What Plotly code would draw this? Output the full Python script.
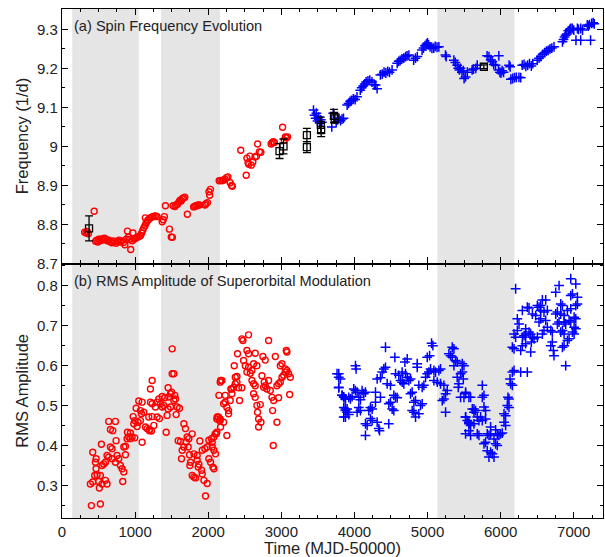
import plotly.graph_objects as go
from plotly.subplots import make_subplots

# ---------------- data ----------------
# (a) spin frequency, red circles (early epoch)
freq_red_t = [310, 330, 345, 360, 440,
              460, 475, 490, 505, 520, 540, 560, 580, 600, 620, 640, 660, 680, 700, 720, 740, 760, 780,
              800, 820, 840, 860, 880, 895, 910, 925, 940, 960, 970, 985, 1000, 1020, 1040, 1060, 1075,
              1090, 1105, 1120, 1140, 1135, 1150, 1165, 1180, 1200, 1220, 1240, 1260, 1280, 1300, 1370,
              1385, 1400, 1415, 1470, 1495, 1510, 1520, 1545, 1560, 1580, 1600, 1615, 1630, 1645, 1660,
              1680, 1715, 1800, 1815, 1830, 1845, 1860, 1880, 1955, 1970, 1990, 2010, 2020, 2030, 2150,
              2170, 2190, 2210, 2230, 2250, 2270, 2300, 2320, 2330, 2445, 2520, 2530, 2545, 2555, 2570,
              2590, 2610, 2640, 2660, 2675, 2700, 2720, 2860, 2875, 2890, 2905, 3017, 3040, 3055, 3070, 3085]
freq_red_f = [8.780, 8.778, 8.782, 8.776, 8.834,
              8.757, 8.760, 8.755, 8.762, 8.758, 8.763, 8.760, 8.765, 8.762, 8.758, 8.760, 8.756, 8.753,
              8.758, 8.756, 8.752, 8.757, 8.760, 8.755, 8.758, 8.754, 8.748, 8.762, 8.783, 8.768, 8.762,
              8.736, 8.758, 8.778, 8.762, 8.765, 8.766, 8.768, 8.770, 8.772, 8.778, 8.785, 8.792, 8.817,
              8.797, 8.803, 8.808, 8.812, 8.816, 8.818, 8.820, 8.821, 8.822, 8.820, 8.807, 8.812, 8.820,
              8.848, 8.788, 8.768, 8.767, 8.848, 8.846, 8.850, 8.852, 8.858, 8.862, 8.860, 8.866, 8.868,
              8.870, 8.826, 8.845, 8.846, 8.848, 8.848, 8.850, 8.850, 8.850, 8.853, 8.856, 8.884, 8.875,
              8.890, 8.912, 8.913, 8.912, 8.914, 8.916, 8.920, 8.922, 8.907, 8.900, 8.898, 8.990, 8.926,
              8.970, 8.958, 8.954, 8.975, 8.952, 8.960, 8.973, 8.975, 9.006, 8.986, 8.985, 9.006, 9.010,
              9.012, 9.010, 9.049, 9.016, 9.024, 9.022, 9.024]

# (a) spin frequency, blue crosses (later epoch)
freq_blue_t = [3440, 3455, 3470, 3480, 3495, 3510, 3525, 3540, 3555, 3690, 3710, 3730, 3750, 3770, 3790,
               3810, 3830, 3850, 3900, 3920, 3940, 3960, 3985, 4010, 4035, 4080, 4100, 4120, 4140, 4160,
               4185, 4210, 4240, 4270, 4290, 4310, 4355, 4380, 4405, 4430, 4455, 4480, 4515, 4585, 4605,
               4625, 4650, 4675, 4700, 4720, 4745, 4810, 4835, 4860, 4925, 4945, 4965, 4985, 5000, 5015,
               5035, 5060, 5085, 5105, 5130, 5155, 5245, 5255, 5360, 5380, 5405, 5420, 5435, 5450, 5470,
               5490, 5500, 5520, 5545, 5610, 5630, 5660, 5680, 5815, 5840, 5865, 5885, 5905, 5930, 5975,
               5970, 5990, 6005, 6020, 6040, 6115, 6130, 6140, 6165, 6190, 6215, 6250, 6275, 6295, 6320,
               6345, 6370, 6395, 6420, 6440, 6500, 6525, 6550, 6575, 6600, 6625, 6650, 6675, 6700, 6730,
               6845, 6860, 6875, 6890, 6905, 6925, 6945, 6960, 6980, 7000, 7030, 7050, 7065, 7095, 7095,
               7120, 7185, 7200, 7215, 7230, 7245, 7265, 7280]
freq_blue_f = [9.093, 9.080, 9.072, 9.085, 9.065, 9.075, 9.060, 9.068, 9.062, 9.050, 9.085, 9.070, 9.062,
               9.068, 9.072, 9.066, 9.070, 9.072, 9.106, 9.110, 9.115, 9.118, 9.122, 9.120, 9.127, 9.144,
               9.150, 9.155, 9.160, 9.165, 9.168, 9.170, 9.165, 9.158, 9.157, 9.148, 9.183, 9.185, 9.190,
               9.188, 9.192, 9.190, 9.196, 9.213, 9.218, 9.220, 9.224, 9.226, 9.230, 9.232, 9.234, 9.221,
               9.226, 9.230, 9.247, 9.252, 9.258, 9.262, 9.265, 9.260, 9.255, 9.251, 9.252, 9.256, 9.254,
               9.255, 9.234, 9.230, 9.221, 9.215, 9.208, 9.200, 9.196, 9.200, 9.190, 9.194, 9.174, 9.178,
               9.190, 9.196, 9.198, 9.200, 9.208, 9.232, 9.230, 9.222, 9.217, 9.210, 9.208, 9.232, 9.196,
               9.190, 9.188, 9.194, 9.190, 9.208, 9.204, 9.172, 9.174, 9.176, 9.177, 9.177, 9.176, 9.208,
               9.210, 9.205, 9.208, 9.212, 9.206, 9.212, 9.221, 9.226, 9.230, 9.236, 9.240, 9.244, 9.246,
               9.250, 9.252, 9.255, 9.268, 9.274, 9.280, 9.285, 9.288, 9.296, 9.300, 9.302, 9.302, 9.298,
               9.272, 9.302, 9.300, 9.272, 9.302, 9.298, 9.311, 9.308, 9.312, 9.272, 9.315, 9.317, 9.314]

# (a) black squares with error bars
sq_t = [370, 2975, 3030, 3350, 3350, 3540, 3545, 3720, 3730, 5770]
sq_f = [8.790, 8.988, 9.000, 9.029, 8.998, 9.055, 9.042, 9.078, 9.072, 9.204]
sq_err = [0.032, 0.019, 0.019, 0.017, 0.014, 0.020, 0.017, 0.017, 0.012, 0.005]

# (b) RMS amplitude, red circles
rms_red_t = [402, 525, 388, 420, 502, 511, 548, 447, 466, 457, 420, 466, 480, 525, 594, 616, 548, 571,
             594, 539, 616, 639, 662, 685, 639, 731, 662, 694, 740, 685, 731, 753, 776, 799, 822, 845, 831,
             868, 845, 868, 890, 913, 936, 895, 936, 959, 995, 973, 995, 982, 1014, 1050, 1096, 1027, 1041,
             1073, 1096, 1073, 1119, 1087, 1142, 1164, 1196, 1210, 1233, 1210, 1233, 1187, 1233, 1196, 1224,
             1278, 1301, 1324, 1256, 1301, 1333, 1347, 1370, 1393, 1370, 1406, 1425, 1452, 1461, 1484, 1438,
             1452, 1484, 1507, 1507, 1530, 1498, 1543, 1552, 1530, 1562, 1575, 1607, 1589, 1621, 1644, 1667,
             1635, 1667, 1689, 1712, 1735, 1699, 1726, 1744, 1781, 1758, 1749, 1781, 1804, 1826, 1804, 1849,
             1849, 1872, 1863, 1886, 1909, 1918, 1918, 1954, 1986, 1941, 1986, 1963, 2009, 2032, 2009, 2055,
             2055, 2078, 2100, 2064, 2078, 2046, 2078, 2110, 2123, 2155, 2146, 2169, 2169,
             2096, 2118, 2141, 2164, 2187, 2164, 2118, 2164, 2210, 2210, 2232, 2255, 2232, 2278, 2278, 2301,
             2324, 2310, 2255, 2347, 2370, 2393, 2370, 2393, 2324, 2415, 2461, 2356, 2401, 2429, 2484, 2529,
             2552, 2461, 2475, 2552, 2507, 2552, 2598, 2529, 2575, 2598, 2621, 2643, 2621, 2666, 2643, 2621,
             2643, 2675, 2666, 2712, 2689, 2721, 2689, 2748, 2780, 2735, 2758, 2780, 2803, 2767, 2826, 2826,
             2849, 2872, 2895, 2881, 2918, 2940, 2963, 2986, 2986, 3009, 2940, 2963, 3009, 3032, 3054, 3068,
             3077, 3077, 3100, 3123, 3114, 3054, 2890]
rms_red_a = [0.251, 0.255, 0.305, 0.310, 0.311, 0.295, 0.305, 0.326, 0.343, 0.359, 0.384, 0.368, 0.328,
             0.326, 0.314, 0.305, 0.351, 0.355, 0.359, 0.404, 0.376, 0.372, 0.397, 0.393, 0.461, 0.461,
             0.441, 0.438, 0.413, 0.368, 0.359, 0.376, 0.368, 0.351, 0.343, 0.335, 0.311, 0.378, 0.397,
             0.399, 0.418, 0.422, 0.418, 0.434, 0.432, 0.422, 0.420, 0.473, 0.463, 0.455, 0.494, 0.512,
             0.509, 0.448, 0.459, 0.463, 0.409, 0.488, 0.484, 0.480, 0.447, 0.443, 0.441, 0.542, 0.563,
             0.509, 0.505, 0.472, 0.473, 0.438, 0.437, 0.497, 0.509, 0.517, 0.451, 0.472, 0.468, 0.505,
             0.497, 0.501, 0.523, 0.520, 0.434, 0.545, 0.522, 0.530, 0.476, 0.492, 0.497, 0.642, 0.580,
             0.580, 0.534, 0.526, 0.517, 0.513, 0.478, 0.497, 0.494, 0.413, 0.411, 0.389, 0.397, 0.368,
             0.455, 0.443, 0.422, 0.418, 0.409, 0.397, 0.378, 0.430, 0.359, 0.351, 0.326, 0.322, 0.320,
             0.380, 0.376, 0.364, 0.354, 0.347, 0.412, 0.339, 0.330, 0.389, 0.393, 0.397, 0.314, 0.306,
             0.275, 0.368, 0.359, 0.414, 0.409, 0.397, 0.389, 0.380, 0.347, 0.343, 0.418, 0.422, 0.430,
             0.472, 0.463, 0.526, 0.563, 0.447,
             0.430, 0.434, 0.472, 0.467, 0.563, 0.559, 0.467, 0.463, 0.459, 0.505, 0.509, 0.496, 0.526,
             0.488, 0.480, 0.513, 0.530, 0.542, 0.426, 0.546, 0.555, 0.559, 0.571, 0.573, 0.542, 0.545,
             0.545, 0.600, 0.630, 0.513, 0.613, 0.638, 0.630, 0.667, 0.663, 0.677, 0.600, 0.596, 0.588,
             0.584, 0.581, 0.563, 0.555, 0.550, 0.605, 0.600, 0.631, 0.530, 0.521, 0.484, 0.501, 0.503,
             0.467, 0.459, 0.447, 0.623, 0.614, 0.575, 0.546, 0.550, 0.542, 0.559, 0.563, 0.663, 0.538,
             0.521, 0.513, 0.488, 0.623, 0.550, 0.555, 0.559, 0.600, 0.605, 0.459, 0.520, 0.571, 0.576,
             0.584, 0.638, 0.634, 0.588, 0.580, 0.571, 0.528, 0.592, 0.401]

# (b) RMS amplitude, blue crosses
rms_blue_t = [3762, 3785, 3785, 3831, 3853, 3876, 3876, 3899, 3853,
              3786, 3808, 3786, 3831, 3854, 3877, 3854, 3877, 3900, 3923, 3945, 3968, 3877, 3923, 3991,
              4014, 4037, 4014, 4023, 4060, 4082, 4060, 4082, 4037, 4105, 4151, 4128, 4151, 4174, 4151,
              4197, 4242, 4219, 4219, 4242, 4288, 4288, 4311, 4334, 4343, 4311, 4356, 4379, 4402, 4425,
              4425, 4356, 4448, 4493, 4470, 4493, 4470, 4516, 4539, 4539, 4562, 4585, 4553, 4562, 4607,
              4630, 4653, 4676, 4653, 4699, 4690, 4722, 4722, 4744, 4767, 4767, 4790, 4813, 4836, 4790,
              4813, 4859, 4859, 4881, 4904, 4927, 4836, 4881, 4927, 4950, 4973, 4996, 5018, 4996, 5028,
              5055, 5073, 5041, 5087, 5110, 5155, 5178, 5087, 5133, 5178, 5224, 5270, 5247, 5224, 5201,
              5247, 5338, 5361, 5292, 5315, 5338, 5384, 5361, 5406, 5406, 5452, 5475, 5429, 5420, 5452,
              5475, 5498, 5521, 5566, 5612, 5635, 5657, 5521, 5566, 5589, 5566,
              5489, 5520, 5498, 5589, 5520, 5543, 5566, 5520, 5589, 5635, 5680, 5703, 5635, 5749, 5749,
              5772, 5772, 5794, 5726, 5749, 5794, 5680, 5703, 5817, 5840, 5863, 5772, 5794, 5863, 5909,
              5931, 5954, 5817, 5863, 5886, 5840, 5909, 5977, 5999, 6023, 5931, 5954, 6046, 6068, 6046,
              6068, 6091, 6114, 6114, 6100, 6137, 6160, 6128, 6160, 6183, 6205, 6183, 6160, 6205, 6183,
              6228, 6251, 6228, 6274, 6365, 6297, 6320, 6342, 6274, 6297, 6342, 6297, 6365, 6388, 6342,
              6388, 6411, 6434, 6457, 6420, 6411, 6434, 6479, 6502, 6525, 6548, 6548, 6525, 6502, 6571,
              6616, 6548, 6593, 6639, 6616, 6639, 6593, 6571, 6685, 6707, 6707, 6685, 6721, 6730, 6753,
              6776, 6753, 6799, 6776, 6799, 6822, 6845, 6822, 6868, 6822, 6845, 6868, 6868, 6890, 6890,
              6868, 6845, 6913, 6936, 6913, 6959, 6936, 6959, 6959, 6982, 6959, 7028, 6982, 7005, 7005,
              7028, 7028, 7050, 7050, 7005, 7028]
rms_blue_a = [0.580, 0.571, 0.545, 0.526, 0.522, 0.517, 0.492, 0.484, 0.472,
              0.580, 0.567, 0.546, 0.526, 0.521, 0.517, 0.496, 0.488, 0.492, 0.521, 0.517, 0.523, 0.472,
              0.478, 0.542, 0.538, 0.534, 0.600, 0.592, 0.521, 0.515, 0.496, 0.488, 0.484, 0.538, 0.534,
              0.530, 0.455, 0.451, 0.426, 0.488, 0.492, 0.496, 0.468, 0.463, 0.534, 0.509, 0.459, 0.443,
              0.438, 0.567, 0.570, 0.584, 0.592, 0.596, 0.646, 0.521, 0.555, 0.551, 0.505, 0.509, 0.455,
              0.492, 0.488, 0.526, 0.521, 0.520, 0.621, 0.580, 0.576, 0.563, 0.559, 0.555, 0.584, 0.580,
              0.609, 0.617, 0.571, 0.563, 0.567, 0.530, 0.534, 0.509, 0.513, 0.488, 0.484, 0.605, 0.596,
              0.551, 0.501, 0.505, 0.472, 0.480, 0.546, 0.551, 0.571, 0.580, 0.584, 0.621, 0.625, 0.656,
              0.650, 0.592, 0.588, 0.584, 0.588, 0.592, 0.563, 0.559, 0.555, 0.551, 0.538, 0.530, 0.517,
              0.513, 0.484, 0.646, 0.642, 0.630, 0.625, 0.621, 0.613, 0.600, 0.609, 0.571, 0.580, 0.584,
              0.555, 0.546, 0.521, 0.605, 0.600, 0.534, 0.521, 0.492, 0.484, 0.488, 0.472, 0.459, 0.451,
              0.438,
              0.567, 0.530, 0.521, 0.521, 0.472, 0.463, 0.455, 0.430, 0.426, 0.492, 0.472, 0.463, 0.455,
              0.551, 0.521, 0.526, 0.497, 0.488, 0.472, 0.463, 0.467, 0.430, 0.426, 0.430, 0.426, 0.430,
              0.405, 0.409, 0.447, 0.417, 0.405, 0.401, 0.388, 0.384, 0.380, 0.372, 0.372, 0.426, 0.430,
              0.432, 0.440, 0.430, 0.459, 0.451, 0.480, 0.475, 0.501, 0.496, 0.517, 0.521, 0.555, 0.551,
              0.567, 0.584, 0.588, 0.792, 0.642, 0.646, 0.671, 0.679, 0.688, 0.704, 0.717, 0.584, 0.584,
              0.671, 0.675, 0.679, 0.638, 0.650, 0.655, 0.738, 0.746, 0.744, 0.692, 0.684, 0.679, 0.671,
              0.667, 0.659, 0.634, 0.729, 0.725, 0.750, 0.746, 0.750, 0.717, 0.709, 0.671, 0.764, 0.764,
              0.738, 0.734, 0.738, 0.713, 0.696, 0.688, 0.679, 0.688, 0.684, 0.659, 0.650, 0.638, 0.625,
              0.729, 0.734, 0.783, 0.800, 0.704, 0.709, 0.754, 0.750, 0.729, 0.725, 0.684, 0.688, 0.679,
              0.709, 0.704, 0.600, 0.650, 0.646, 0.663, 0.667, 0.738, 0.742, 0.713, 0.709, 0.775, 0.779,
              0.817, 0.804, 0.684, 0.679, 0.721, 0.717, 0.750, 0.754, 0.771, 0.696, 0.692]

# shaded intervals (MJD-50000)
band_start = [140, 1355, 5135]
band_end = [1050, 2160, 6190]

# axis ticks
x_ticks = [0, 1000, 2000, 3000, 4000, 5000, 6000, 7000]
x_ticktext = ["0", "1000", "2000", "3000", "4000", "5000", "6000", "7000"]
f_ticks = [8.7, 8.8, 8.9, 9.0, 9.1, 9.2, 9.3]
f_ticktext = ["8.7", "8.8", "8.9", "9", "9.1", "9.2", "9.3"]
a_ticks = [0.3, 0.4, 0.5, 0.6, 0.7, 0.8]
a_ticktext = ["0.3", "0.4", "0.5", "0.6", "0.7", "0.8"]

# ---------------- figure ----------------
FONT = "Liberation Sans, Arial, Helvetica, sans-serif"
TXT = "#222222"

fig = make_subplots(rows=2, cols=1, shared_xaxes=True, vertical_spacing=0)

circle = dict(symbol="circle-open", size=6, color="red", line=dict(width=1.4, color="red"))
cross = dict(symbol="cross-thin-open", size=7, color="blue", line=dict(width=1.5, color="blue"))

fig.add_trace(go.Scatter(x=freq_red_t, y=freq_red_f, mode="markers", marker=circle,
                         showlegend=False), row=1, col=1)
fig.add_trace(go.Scatter(x=freq_blue_t, y=freq_blue_f, mode="markers", marker=cross,
                         showlegend=False), row=1, col=1)
fig.add_trace(go.Scatter(x=sq_t, y=sq_f, mode="markers",
                         marker=dict(symbol="square-open", size=7, color="black",
                                     line=dict(width=1.3, color="black")),
                         error_y=dict(type="data", array=sq_err, color="black", thickness=1.3, width=4),
                         showlegend=False), row=1, col=1)
fig.add_trace(go.Scatter(x=rms_red_t, y=rms_red_a, mode="markers", marker=circle,
                         showlegend=False), row=2, col=1)
fig.add_trace(go.Scatter(x=rms_blue_t, y=rms_blue_a, mode="markers", marker=cross,
                         showlegend=False), row=2, col=1)

for s, e in zip(band_start, band_end):
    fig.add_shape(type="rect", xref="x", yref="paper", x0=s, x1=e, y0=0, y1=1,
                  fillcolor="#e5e5e5", line=dict(width=0), layer="below")

axis_common = dict(showline=True, linecolor="black", linewidth=1.2, mirror="ticks",
                   ticks="inside", ticklen=6, tickwidth=1, tickcolor="black",
                   showgrid=False, zeroline=False, automargin=False,
                   tickfont=dict(family=FONT, size=15, color=TXT))

fig.update_xaxes(**axis_common, range=[0, 7400], tickvals=x_ticks, ticktext=x_ticktext,
                 minor=dict(ticks="inside", ticklen=3, dtick=250, tick0=0, tickcolor="black"))
fig.update_xaxes(showticklabels=False, row=1, col=1)

fig.update_yaxes(**axis_common, minor=dict(ticks="inside", ticklen=3, dtick=0.05, tickcolor="black"))
fig.update_yaxes(range=[8.7, 9.352], tickvals=f_ticks, ticktext=f_ticktext,
                 minor=dict(tick0=8.7), row=1, col=1)
fig.update_yaxes(range=[0.22, 0.855], tickvals=a_ticks, ticktext=a_ticktext,
                 minor=dict(tick0=0.2), row=2, col=1)

title_font = dict(family=FONT, size=16.5, color=TXT)
fig.add_annotation(text="Frequency (1/d)", xref="paper", yref="paper", x=-0.074, y=0.75,
                   xanchor="center", yanchor="middle", textangle=-90, showarrow=False, font=title_font)
fig.add_annotation(text="RMS Amplitude", xref="paper", yref="paper", x=-0.074, y=0.25,
                   xanchor="center", yanchor="middle", textangle=-90, showarrow=False, font=title_font)
fig.add_annotation(text="Time (MJD-50000)", xref="paper", yref="paper", x=0.5, y=-0.058,
                   xanchor="center", yanchor="middle", showarrow=False, font=title_font)

fig.add_annotation(text="(a) Spin Frequency Evolution", xref="paper", yref="paper",
                   x=0.018, y=0.986, xanchor="left", yanchor="top", showarrow=False,
                   font=dict(family=FONT, size=14.6, color=TXT))
fig.add_annotation(text="(b) RMS Amplitude of Superorbital Modulation", xref="paper", yref="paper",
                   x=0.018, y=0.486, xanchor="left", yanchor="top", showarrow=False,
                   font=dict(family=FONT, size=14.6, color=TXT))

fig.update_layout(width=605, height=557, margin=dict(l=62, r=2, t=9, b=39),
                  plot_bgcolor="white", paper_bgcolor="white",
                  font=dict(family=FONT, color=TXT))

fig.write_html("out.html", config={"displayModeBar": False},
               post_script="document.body.style.margin='0';document.body.style.overflow='hidden';")
